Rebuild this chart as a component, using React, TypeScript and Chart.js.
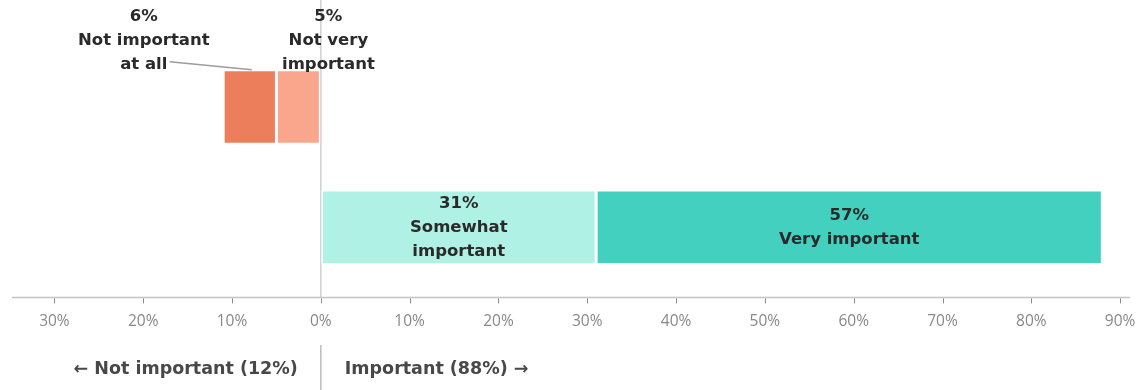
import React, { useEffect, useRef } from 'react';
import { Chart, registerables } from 'chart.js';

Chart.register(...registerables);

const categories = ['Not important', 'Important'];
const seriesNames = ['Not very important', 'Not important at all', 'Somewhat important', 'Very important'];
const notVeryImportant = [-5, null];
const notImportantAtAll = [-6, null];
const somewhatImportant = [null, 31];
const veryImportant = [null, 57];
const seriesLabelLines = [
  ['Not very', 'important'],
  ['Not important', 'at all'],
  ['Somewhat', 'important'],
  ['Very important'],
];
const groupTotals = [12, 88];
const tickMin = -35;
const tickMax = 91;

const seriesColors = ['#F9A68D', '#EC7E5C', '#B0F1E5', '#44D0BF'];
const TICK_FONT = '"Open Sans", sans-serif';
const LABEL_FONT = '"DejaVu Sans", sans-serif';

const labelPlacement = [
  { mode: 'above', dx: 30, leader: false },
  { mode: 'above', dx: -106, leader: true },
  { mode: 'inside', dx: 0, leader: false },
  { mode: 'inside', dx: 0, leader: false },
];

const overlayPlugin = {
  id: 'overlay',
  beforeDatasetsDraw(chart: any) {
    const { ctx, chartArea, scales } = chart;
    const x0 = scales.x.getPixelForValue(0);
    const axisY = chartArea.bottom + 10;
    ctx.save();
    ctx.strokeStyle = '#cfcfcf';
    ctx.lineWidth = 1.5;
    ctx.beginPath();
    ctx.moveTo(x0, 0);
    ctx.lineTo(x0, axisY);
    ctx.stroke();
    ctx.restore();
  },
  afterDatasetsDraw(chart: any) {
    const { ctx, chartArea, scales } = chart;
    const xs = scales.x;
    const x0 = xs.getPixelForValue(0);
    const axisY = chartArea.bottom + 10;
    ctx.save();
    // axis line + tick marks
    ctx.strokeStyle = '#c4c4c4';
    ctx.lineWidth = 1.5;
    ctx.beginPath();
    ctx.moveTo(chartArea.left + 2, axisY);
    ctx.lineTo(chartArea.right + 1, axisY);
    ctx.stroke();
    ctx.strokeStyle = '#8a8a8a';
    ctx.lineWidth = 1;
    xs.ticks.forEach((t: any) => {
      if (t.value % 10 !== 0) return;
      const px = Math.round(xs.getPixelForValue(t.value)) + 0.5;
      ctx.beginPath();
      ctx.moveTo(px, axisY + 1);
      ctx.lineTo(px, axisY + 6);
      ctx.stroke();
    });

    // data labels
    ctx.fillStyle = '#2a2a2a';
    ctx.font = `bold 16.5px ${LABEL_FONT}`;
    ctx.textAlign = 'center';
    ctx.textBaseline = 'middle';
    chart.data.datasets.forEach((ds: any, i: number) => {
      const meta = chart.getDatasetMeta(i);
      ds.data.forEach((v: any, j: number) => {
        if (v === null || v === undefined) return;
        const bar: any = meta.data[j];
        const cx = (bar.x + bar.base) / 2;
        const top = bar.y - bar.height / 2;
        const lines = [`${Math.abs(v)}%`, ...seriesLabelLines[i]];
        const lh = 24;
        const place = labelPlacement[i];
        if (place.mode === 'inside') {
          const startY = bar.y - ((lines.length - 1) * lh) / 2;
          lines.forEach((l, k) => ctx.fillText(l, cx + place.dx, startY + k * lh));
        } else {
          const lx = cx + place.dx;
          const lastY = top - 5;
          if (place.leader) {
            ctx.save();
            ctx.strokeStyle = '#9d9d9d';
            ctx.lineWidth = 1.5;
            ctx.beginPath();
            ctx.moveTo(lx + 26, lastY - 3);
            ctx.lineTo(cx + 2, top);
            ctx.stroke();
            ctx.restore();
          }
          lines.forEach((l, k) => ctx.fillText(l, lx, lastY - (lines.length - 1 - k) * lh));
        }
      });
    });

    // bottom annotations
    const annY = 369;
    ctx.strokeStyle = '#bcbcbc';
    ctx.lineWidth = 1.5;
    ctx.beginPath();
    ctx.moveTo(x0, 345);
    ctx.lineTo(x0, chart.height);
    ctx.stroke();
    ctx.fillStyle = '#484848';
    ctx.font = `bold 17.5px ${LABEL_FONT}`;
    ctx.textAlign = 'right';
    ctx.fillText(`← ${categories[0]} (${groupTotals[0]}%)`, x0 - 23, annY);
    ctx.textAlign = 'left';
    ctx.fillText(`${categories[1]} (${groupTotals[1]}%) →`, x0 + 24, annY);
    ctx.restore();
  },
};

export default function App() {
  const ref = useRef<HTMLCanvasElement | null>(null);
  useEffect(() => {
    if (!ref.current) return;
    const datasets = [notVeryImportant, notImportantAtAll, somewhatImportant, veryImportant].map((d, i) => ({
      label: seriesNames[i],
      data: d,
      backgroundColor: seriesColors[i],
      borderColor: '#ffffff',
      borderWidth: 1.5,
      borderSkipped: false,
      barPercentage: 0.62,
      categoryPercentage: 1,
    }));
    const chart = new Chart(ref.current, {
      type: 'bar',
      data: { labels: categories, datasets },
      plugins: [overlayPlugin],
      options: {
        indexAxis: 'y',
        animation: false,
        responsive: true,
        maintainAspectRatio: false,
        layout: { padding: { top: 47, left: 10, right: 11, bottom: 55 } },
        plugins: { legend: { display: false }, tooltip: { enabled: false } },
        scales: {
          x: {
            type: 'linear',
            stacked: true,
            min: tickMin,
            max: tickMax,
            grid: {
              display: true,
              drawOnChartArea: false,
              drawTicks: true,
              tickLength: 21,
              color: 'rgba(0,0,0,0)',
            },
            border: { display: false },
            ticks: {
              stepSize: 10,
              includeBounds: false,
              padding: 4,
              color: '#888888',
              font: { family: TICK_FONT, size: 15.5 },
              callback: (v: any) => (Number(v) % 10 === 0 ? `${Math.abs(Number(v))}%` : ''),
            },
          },
          y: { stacked: true, display: false },
        },
      } as any,
    });
    return () => chart.destroy();
  }, []);
  return (
    <div style={{ position: 'fixed', left: 0, top: 0, width: 1140, height: 390, background: '#fff' }}>
      <canvas ref={ref} />
    </div>
  );
}
